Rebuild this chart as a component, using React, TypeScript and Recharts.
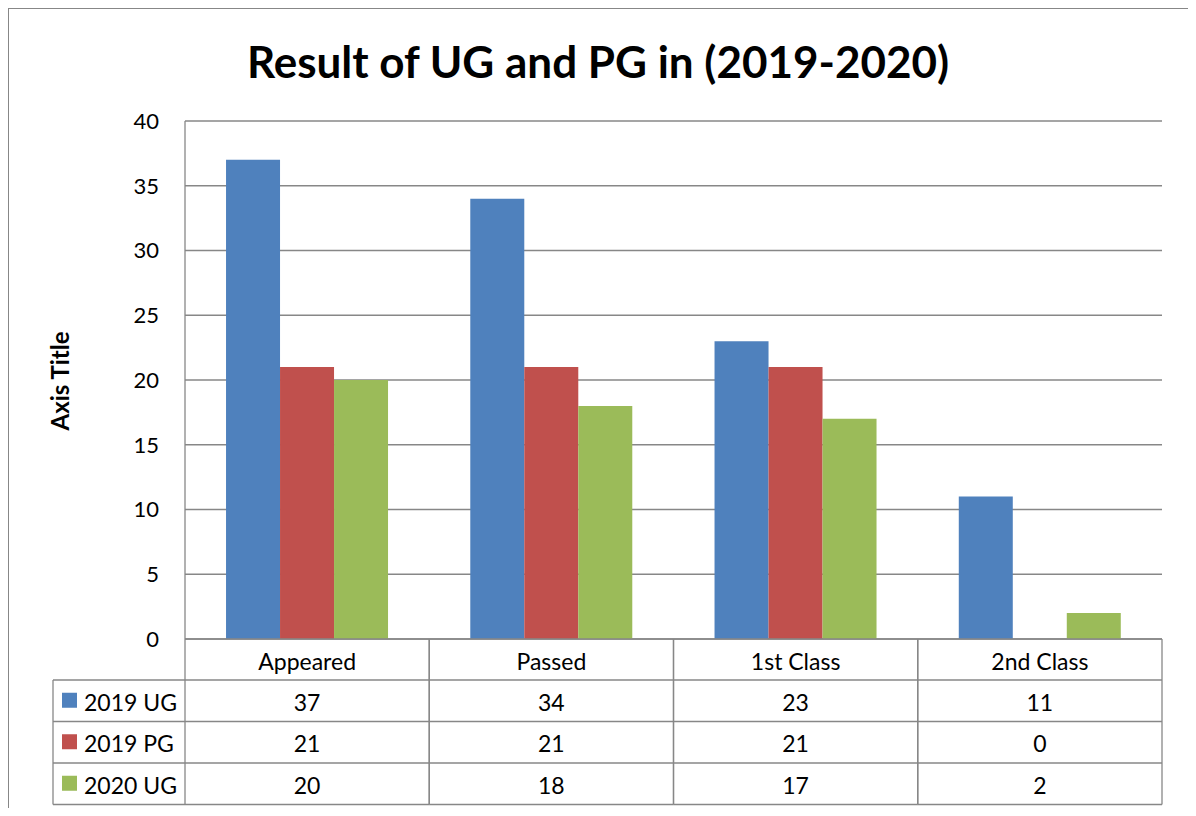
import { BarChart, Bar, XAxis, YAxis, CartesianGrid } from 'recharts';

// Result of UG and PG, 2019-2020
const categories = ['Appeared', 'Passed', '1st Class', '2nd Class'];
const ug2019 = [37, 34, 23, 11];
const pg2019 = [21, 21, 21, 0];
const ug2020 = [20, 18, 17, 2];
const yTicks = [0, 5, 10, 15, 20, 25, 30, 35, 40];

const series = [
  { key: 'ug2019', name: '2019 UG', color: '#4F81BD', values: ug2019 },
  { key: 'pg2019', name: '2019 PG', color: '#C0504D', values: pg2019 },
  { key: 'ug2020', name: '2020 UG', color: '#9BBB59', values: ug2020 },
];

const data = categories.map((name, i) => ({
  name,
  ug2019: ug2019[i],
  pg2019: pg2019[i],
  ug2020: ug2020[i],
}));

const FONT = 'Lato, "Open Sans", sans-serif';
const LINE = '#878787';
const HEADER_H = 41;
const ROW_H = 41.5;
const TABLE_LEFT = 53;

function TableTick(props: any) {
  const { x, y, payload, index } = props;
  const colW = payload && payload.offset ? payload.offset * 2 : 977 / categories.length;
  const x0 = x - colW / 2;
  const x1 = x + colW / 2;
  const bottom = y + HEADER_H + ROW_H * series.length;
  const rowLines = [0, 1, 2, 3].map((r) => y + HEADER_H + r * ROW_H);

  return (
    <g>
      <line x1={x0} y1={y} x2={x0} y2={bottom} stroke={LINE} strokeWidth={1.3} />
      <line x1={x1} y1={y} x2={x1} y2={bottom} stroke={LINE} strokeWidth={1.3} />
      {rowLines.map((ry, r) => (
        <line key={r} x1={x0} y1={ry} x2={x1} y2={ry} stroke={LINE} strokeWidth={1.3} />
      ))}
      <text x={x} y={y + HEADER_H / 2 + 1} textAnchor="middle" dominantBaseline="central"
        fontFamily={FONT} fontSize={23} fill="#000">
        {payload.value}
      </text>
      {series.map((s, r) => (
        <text key={s.key} x={x} y={y + HEADER_H + ROW_H * r + ROW_H / 2 + 1}
          textAnchor="middle" dominantBaseline="central" fontFamily={FONT} fontSize={23} fill="#000">
          {s.values[index]}
        </text>
      ))}
      {index === 0 && (
        <g>
          <line x1={TABLE_LEFT} y1={rowLines[0]} x2={TABLE_LEFT} y2={bottom} stroke={LINE} strokeWidth={1.3} />
          {rowLines.map((ry, r) => (
            <line key={r} x1={TABLE_LEFT} y1={ry} x2={x0} y2={ry} stroke={LINE} strokeWidth={1.3} />
          ))}
          {series.map((s, r) => {
            const cy = y + HEADER_H + ROW_H * r + ROW_H / 2;
            return (
              <g key={s.key}>
                <rect x={TABLE_LEFT + 9} y={cy - 8} width={15} height={15} fill={s.color} />
                <text x={TABLE_LEFT + 31} y={cy + 1} dominantBaseline="central"
                  fontFamily={FONT} fontSize={23} fill="#000">
                  {s.name}
                </text>
              </g>
            );
          })}
        </g>
      )}
    </g>
  );
}

function AxisTitle() {
  const cx = 59;
  const cy = 381;
  return (
    <text x={cx} y={cy} transform={`rotate(-90 ${cx} ${cy})`} textAnchor="middle"
      dominantBaseline="central" fontFamily={FONT} fontWeight="bold" fontSize={24} fill="#000">
      Axis Title
    </text>
  );
}

export default function App() {
  return (
    <div style={{ position: 'relative', margin: -8, width: 1196, height: 816, overflow: 'hidden', background: '#fff' }}>
      <div style={{
        position: 'absolute', left: 8, top: 8, width: 1183, height: 900,
        border: `1px solid ${LINE}`, boxSizing: 'border-box',
      }} />
      <div style={{
        position: 'absolute', left: 0, top: 35, width: 1196, textAlign: 'center',
        fontFamily: FONT, fontWeight: 'bold', fontSize: 44, lineHeight: '52px', color: '#000',
      }}>
        Result of UG and PG in (2019-2020)
      </div>
      <div style={{ position: 'absolute', left: 0, top: 0 }}>
        <BarChart
          width={1196}
          height={816}
          data={data}
          margin={{ top: 121, right: 34, left: 0, bottom: 0 }}
          barGap={0}
          barCategoryGap="16.8%"
        >
          <CartesianGrid vertical={false} stroke={LINE} strokeOpacity={1} strokeWidth={1.3} />
          <XAxis
            dataKey="name"
            height={177}
            tickSize={0}
            tickMargin={0}
            tickLine={false}
            axisLine={{ stroke: LINE, strokeWidth: 1.3 }}
            interval={0}
            tick={<TableTick />}
          />
          <YAxis
            width={185}
            domain={[0, 40]}
            ticks={yTicks}
            interval={0}
            tickLine={false}
            tickMargin={20}
            axisLine={{ stroke: LINE, strokeWidth: 1.3 }}
            tick={{ fontFamily: FONT, fontSize: 22, fill: '#000' }}
            label={<AxisTitle />}
          />
          {series.map((s) => (
            <Bar key={s.key} dataKey={s.key} name={s.name} fill={s.color} isAnimationActive={false} />
          ))}
        </BarChart>
      </div>
    </div>
  );
}
